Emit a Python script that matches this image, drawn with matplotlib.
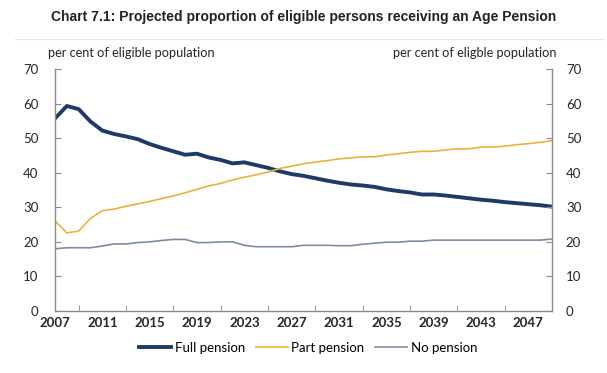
import numpy as np
import matplotlib.pyplot as plt
from matplotlib.lines import Line2D

years = list(range(2007, 2050))

full_pension = [55.7, 59.3, 58.4, 54.8, 52.2, 51.2, 50.5, 49.7, 48.3, 47.2,
                46.2, 45.2, 45.5, 44.4, 43.7, 42.7, 43.0, 42.2, 41.4, 40.4,
                39.6, 39.1, 38.4, 37.7, 37.1, 36.6, 36.3, 35.9, 35.2, 34.7,
                34.3, 33.7, 33.7, 33.4, 33.0, 32.6, 32.2, 31.9, 31.5, 31.2,
                30.9, 30.6, 30.2]
part_pension = [26.1, 22.6, 23.1, 26.8, 29.0, 29.5, 30.3, 31.0, 31.7, 32.5,
                33.3, 34.2, 35.2, 36.2, 36.9, 37.9, 38.7, 39.4, 40.2, 41.2,
                41.9, 42.6, 43.1, 43.5, 44.0, 44.3, 44.6, 44.6, 45.1, 45.5,
                45.9, 46.2, 46.2, 46.6, 46.9, 46.9, 47.4, 47.4, 47.7, 48.1,
                48.4, 48.8, 49.3]
no_pension = [18.0, 18.3, 18.3, 18.3, 18.8, 19.4, 19.4, 19.8, 20.0, 20.4,
              20.7, 20.7, 19.8, 19.8, 20.0, 20.0, 19.0, 18.6, 18.6, 18.6,
              18.6, 19.0, 19.0, 19.0, 18.9, 18.9, 19.3, 19.6, 19.9, 19.9,
              20.2, 20.2, 20.5, 20.5, 20.5, 20.5, 20.5, 20.5, 20.5, 20.5,
              20.5, 20.5, 20.8]

x_labels = list(range(2007, 2050, 4))
y_ticks = [0, 10, 20, 30, 40, 50, 60, 70]

c_full = '#1f3a68'
c_part = '#e9b23c'
c_none = '#7b8ca6'
c_axis = '#8a8a8a'
c_text = '#262626'

plt.rcParams['font.family'] = ['Lato', 'DejaVu Sans']

fig = plt.figure(figsize=(6.07, 3.73), dpi=100)
ax = fig.add_axes([0.0906, 0.1662, 0.8188, 0.6488])

ax.plot(years, full_pension, color=c_full, lw=2.8, solid_joinstyle='round')
ax.plot(years, part_pension, color=c_part, lw=1.2)
ax.plot(years, no_pension, color=c_none, lw=1.2)

ax.set_xlim(2007, 2049)
ax.set_ylim(0, 70)
ax.set_yticks(y_ticks)
ax.set_xticks(x_labels)
ax.set_xticks(range(2007, 2050, 2), minor=True)

ax2 = ax.twinx()
ax2.set_ylim(0, 70)
ax2.set_yticks(y_ticks)

for a in (ax, ax2):
    for s in a.spines.values():
        s.set_visible(False)
ax.spines['left'].set_visible(True)
ax.spines['bottom'].set_visible(True)
ax2.spines['right'].set_visible(True)
for s in (ax.spines['left'], ax.spines['bottom'], ax2.spines['right']):
    s.set_color(c_axis)
    s.set_linewidth(1.0)

ax.tick_params(axis='y', direction='in', length=4, color=c_axis,
               labelsize=9.5, labelcolor=c_text, pad=12)
ax2.tick_params(axis='y', direction='in', length=4, color=c_axis,
                labelsize=9.5, labelcolor=c_text, pad=10)
ax.tick_params(axis='x', which='both', direction='in', length=4, color=c_axis,
               labelsize=9.5, labelcolor=c_text, pad=4)
ax.tick_params(axis='x', which='major', length=0)
for lbl in ax.get_xticklabels():
    lbl.set_fontweight('bold')

fig.text(0.5, 0.955, 'Chart 7.1: Projected proportion of eligible persons receiving an Age Pension',
         ha='center', va='center', fontsize=10, fontweight='bold',
         family='Liberation Sans', color='#222222')
fig.add_artist(Line2D([0.025, 0.995], [0.895, 0.895], color='#e6e6e6', lw=0.8))

fig.text(0.079, 0.858, 'per cent of eligible population', ha='left', va='center',
         fontsize=9.2, color=c_text)
fig.text(0.917, 0.858, 'per cent of eligble population', ha='right', va='center',
         fontsize=9.2, color=c_text)

handles = [Line2D([], [], color=c_full, lw=2.8),
           Line2D([], [], color=c_part, lw=1.2),
           Line2D([], [], color=c_none, lw=1.2)]
fig.legend(handles, ['Full pension', 'Part pension', 'No pension'],
           loc='center', bbox_to_anchor=(0.508, 0.068), ncol=3, frameon=False,
           fontsize=9.5, handlelength=2.4, handletextpad=0.3, columnspacing=0.8)

fig.savefig('out.png', dpi=100)
